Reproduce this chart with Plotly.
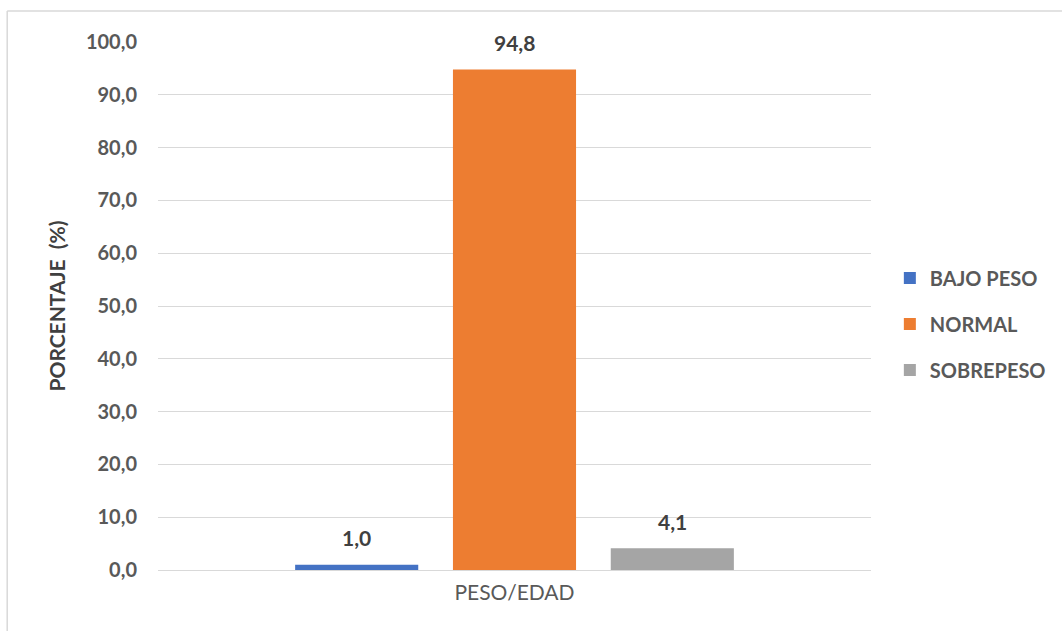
import plotly.graph_objects as go

# Percentages by weight-for-age class
category = ["PESO/EDAD"]
series_names = ["BAJO PESO", "NORMAL", "SOBREPESO"]
series_values = [[1.0], [94.8], [4.1]]
series_colors = ["#4472C4", "#ED7D31", "#A5A5A5"]
y_ticks = [0, 10, 20, 30, 40, 50, 60, 70, 80, 90, 100]

FONT = "Lato, 'Open Sans', Arial, sans-serif"
TXT = "#595959"

# Plot geometry
W, H = 1062, 631
M_L, M_R, M_T, M_B = 158, 190, 42, 61
BARGAP, BARGROUPGAP = 0.336, 0.22
plot_w = W - M_L - M_R
slot_px = plot_w * (1 - BARGAP) / len(series_names)

fig = go.Figure()
annotations = []
for i, (name, vals, col) in enumerate(zip(series_names, series_values, series_colors)):
    fig.add_trace(go.Bar(
        x=category, y=vals, name=name, legendgroup=name,
        marker=dict(color=col, line=dict(width=0)),
    ))
    # value label centred over each bar
    offset = (i - (len(series_names) - 1) / 2) * slot_px
    for c, v in zip(category, vals):
        annotations.append(dict(
            x=c, y=v, xref="x", yref="y",
            text=f"<b>{v:.1f}</b>".replace(".", ","),
            showarrow=False, xanchor="center", yanchor="middle",
            xshift=offset, yshift=27,
            font=dict(family=FONT, size=21, color="#404040"),
        ))

fig.update_layout(
    width=W, height=H,
    margin=dict(l=M_L, r=M_R, t=M_T, b=M_B),
    paper_bgcolor="white", plot_bgcolor="white",
    separators=",.",
    barmode="group", bargap=BARGAP, bargroupgap=BARGROUPGAP,
    font=dict(family=FONT, color=TXT),
    legend=dict(
        x=1.025, y=0.466, xanchor="left", yanchor="middle",
        font=dict(family=FONT, size=20, color=TXT, weight="bold"),
        itemwidth=30, tracegroupgap=17,
        traceorder="grouped",
    ),
    xaxis=dict(
        showgrid=False, showline=False, ticks="",
        ticklabelstandoff=8,
        tickfont=dict(family=FONT, size=21, color=TXT),
    ),
    yaxis=dict(
        range=[0, 100], tickvals=y_ticks, tickformat=".1f",
        showgrid=True, gridcolor="#d9d9d9", gridwidth=1,
        zeroline=True, zerolinecolor="#d9d9d9", zerolinewidth=1,
        showline=False, ticks="",
        ticklabelstandoff=20,
        tickfont=dict(family=FONT, size=20, color=TXT, weight="bold"),
        title=dict(text="<b>PORCENTAJE  (%)</b>", standoff=14,
                   font=dict(family=FONT, size=21, color="#404040")),
    ),
    annotations=annotations,
    shapes=[
        dict(type="line", xref="paper", yref="paper",
             x0=-0.2115, x1=2.0, y0=1.0587, y1=1.0587,
             line=dict(color="#d9d9d9", width=1.5)),
        dict(type="line", xref="paper", yref="paper",
             x0=-0.2115, x1=-0.2115, y0=1.0587, y1=-1.0,
             line=dict(color="#d9d9d9", width=1.5)),
    ],
)

fig.write_html("out.html")
